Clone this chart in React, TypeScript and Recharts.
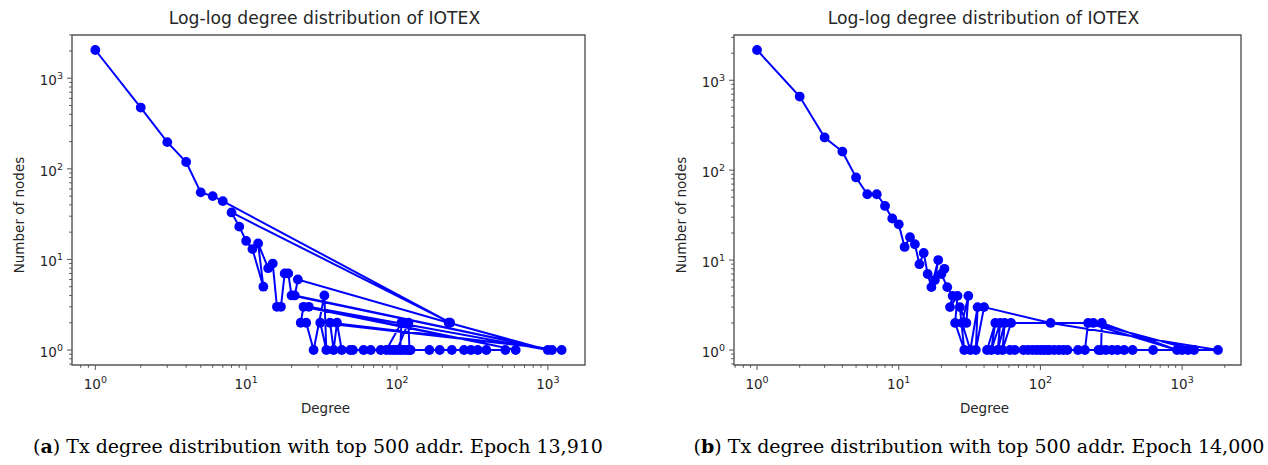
import React from 'react';
import { ScatterChart, Scatter, XAxis, YAxis, ReferenceArea } from 'recharts';

// ---------- data (plotting order, as in the source figure) ----------
const degreesA = [1, 2, 3, 4, 5, 6, 7, 225, 8, 9, 10, 11, 13, 12, 14, 15, 16, 17, 18, 19, 20, 1065, 21, 22, 220, 1000, 26, 612, 24, 23, 25, 28, 33, 34, 31, 1235, 36, 38, 40, 43, 49, 51, 60, 67, 78, 85, 107, 105, 90, 95, 100, 119, 121, 110, 116, 123, 164, 192, 231, 278, 309, 343, 391, 523];
const countsA = [2050, 475, 197, 119, 55, 50, 44, 2, 33, 23, 16, 13, 5, 15, 8, 9, 3, 3, 7, 7, 4, 1, 4, 6, 2, 1, 3, 1, 3, 2, 2, 1, 4, 1, 2, 1, 2, 1, 2, 1, 1, 1, 1, 1, 1, 1, 2, 1, 1, 1, 1, 2, 1, 1, 1, 1, 1, 1, 1, 1, 1, 1, 1, 1];

const degreesB = [1, 2, 3, 4, 5, 6, 7, 8, 9, 10, 11, 12, 13, 14, 15, 16, 17, 19, 18, 21, 20, 22, 24, 23, 26, 25, 29, 27, 30, 31, 28, 32, 36, 35, 40, 118, 1790, 116, 42, 48, 45, 52, 50, 56, 54, 62, 236, 1214, 61, 66, 76, 82, 88, 94, 100, 106, 112, 125, 135, 145, 155, 184, 206, 217, 920, 271, 268, 257, 290, 320, 350, 390, 447, 624, 1000, 1100];
const countsB = [2170, 659, 231, 161, 83, 54, 54, 40, 29, 25, 14, 18, 15, 9, 12, 7, 5, 10, 6, 8, 7, 5, 4, 3, 4, 2, 1, 3, 2, 4, 2, 1, 3, 1, 3, 2, 1, 1, 1, 2, 1, 2, 1, 2, 1, 2, 2, 1, 1, 1, 1, 1, 1, 1, 1, 1, 1, 1, 1, 1, 1, 1, 1, 2, 1, 2, 1, 1, 1, 1, 1, 1, 1, 1, 1, 1];

const majorTicks = [1, 10, 100, 1000];
const tickExponents = ['0', '1', '2', '3'];
const minorSteps = [2, 3, 4, 5, 6, 7, 8, 9];

const titleText = 'Log-log degree distribution of IOTEX';
const xLabel = 'Degree';
const yLabel = 'Number of nodes';
const captionTextA = 'Tx degree distribution with top 500 addr. Epoch 13,910';
const captionTextB = 'Tx degree distribution with top 500 addr. Epoch 14,000';

// ---------- helpers ----------
const BLUE = '#0000ff';
const AXIS = '#555555';
const TEXT = '#262626';
const SANS = '"DejaVu Sans", sans-serif';
const SERIF = '"DejaVu Serif", serif';

function logDomain(vals: number[]): [number, number] {
  const lo = Math.log10(Math.min(...vals));
  const hi = Math.log10(Math.max(...vals));
  const m = (hi - lo) * 0.05;
  return [Math.pow(10, lo - m), Math.pow(10, hi + m)];
}

function logTicks(domain: [number, number]): number[] {
  const res: number[] = [];
  for (let e = -1; e <= 4; e++) {
    const base = Math.pow(10, e);
    [1, ...minorSteps].forEach((k) => {
      const v = k === 1 ? base : k * base;
      if (v >= domain[0] && v <= domain[1]) res.push(v);
    });
  }
  return res;
}

const XTick = (props: any) => {
  const { x, y, payload } = props;
  const i = majorTicks.indexOf(payload.value);
  const major = i >= 0;
  return (
    <g>
      <line x1={x} x2={x} y1={y} y2={y + (major ? 5 : 2.8)} stroke={AXIS} strokeWidth={1} />
      {major && (
        <text x={x} y={y + 24} textAnchor="middle" fontFamily={SANS} fontSize={13.5} fill={TEXT}>
          10<tspan dy={-6} fontSize={9.5}>{tickExponents[i]}</tspan>
        </text>
      )}
    </g>
  );
};

const YTick = (props: any) => {
  const { x, y, payload } = props;
  const i = majorTicks.indexOf(payload.value);
  const major = i >= 0;
  return (
    <g>
      <line x1={x - (major ? 5 : 2.8)} x2={x} y1={y} y2={y} stroke={AXIS} strokeWidth={1} />
      {major && (
        <text x={x - 9} y={y + 7} textAnchor="end" fontFamily={SANS} fontSize={13.5} fill={TEXT}>
          10<tspan dy={-6} fontSize={9.5}>{tickExponents[i]}</tspan>
        </text>
      )}
    </g>
  );
};

const Dot = (props: any) => <circle cx={props.cx} cy={props.cy} r={4.9} fill={BLUE} />;

type PanelProps = {
  degrees: number[];
  counts: number[];
  left: number;
  width: number;
  plotLeft: number;
  plotRight: number;
};

const PLOT_TOP = 35;
const PLOT_BOTTOM = 365;
const CHART_H = 430;
const YAXIS_W = 60;
const XAXIS_H = 40;

const Panel = ({ degrees, counts, left, width, plotLeft, plotRight }: PanelProps) => {
  const data = degrees.map((d, i) => ({ x: d, y: counts[i] }));
  const xDom = logDomain(degrees);
  const yDom = logDomain(counts);
  return (
    <div style={{ position: 'absolute', left, top: 0 }}>
      <ScatterChart
        width={width}
        height={CHART_H}
        margin={{
          top: PLOT_TOP,
          right: left + width - plotRight,
          left: plotLeft - left - YAXIS_W,
          bottom: CHART_H - PLOT_BOTTOM - XAXIS_H,
        }}
      >
        <XAxis
          type="number"
          dataKey="x"
          scale="log"
          domain={xDom}
          allowDataOverflow
          ticks={logTicks(xDom)}
          interval={0}
          tick={(p: any) => <XTick {...p} />}
          tickLine={false}
          axisLine={false}
          tickSize={0}
          tickMargin={0}
          height={XAXIS_H}
        />
        <YAxis
          type="number"
          dataKey="y"
          scale="log"
          domain={yDom}
          allowDataOverflow
          ticks={logTicks(yDom)}
          interval={0}
          tick={(p: any) => <YTick {...p} />}
          tickLine={false}
          axisLine={false}
          tickSize={0}
          tickMargin={0}
          width={YAXIS_W}
        />
        <Scatter
          data={data}
          line={{ stroke: BLUE, strokeWidth: 2 }}
          lineType="joint"
          shape={(p: any) => <Dot {...p} />}
          fill={BLUE}
          isAnimationActive={false}
        />
        <ReferenceArea
          x1={xDom[0]}
          x2={xDom[1]}
          y1={yDom[0]}
          y2={yDom[1]}
          fill="none"
          fillOpacity={0}
          stroke={AXIS}
          strokeWidth={1.4}
          ifOverflow="visible"
        />
      </ScatterChart>
    </div>
  );
};

const A_LEFT = 72;
const A_RIGHT = 585;
const B_LEFT = 734;
const B_RIGHT = 1241;

export default function App() {
  const aMid = (A_LEFT + A_RIGHT) / 2;
  const bMid = (B_LEFT + B_RIGHT) / 2;
  const yMid = (PLOT_TOP + PLOT_BOTTOM) / 2 + 15;
  return (
    <div style={{ position: 'absolute', left: 0, top: 0, width: 1268, height: 465, background: '#fff', overflow: 'hidden' }}>
      <Panel degrees={degreesA} counts={countsA} left={0} width={620} plotLeft={A_LEFT} plotRight={A_RIGHT} />
      <Panel degrees={degreesB} counts={countsB} left={660} width={608} plotLeft={B_LEFT} plotRight={B_RIGHT} />
      <svg width={1268} height={465} style={{ position: 'absolute', left: 0, top: 0, pointerEvents: 'none' }}>
        <text x={aMid - 4} y={24} textAnchor="middle" fontFamily={SANS} fontSize={17.2} fill={TEXT}>{titleText}</text>
        <text x={bMid - 4} y={24} textAnchor="middle" fontFamily={SANS} fontSize={17.2} fill={TEXT}>{titleText}</text>
        <text x={aMid - 3} y={413} textAnchor="middle" fontFamily={SANS} fontSize={13.5} fill={TEXT}>{xLabel}</text>
        <text x={bMid - 3} y={413} textAnchor="middle" fontFamily={SANS} fontSize={13.5} fill={TEXT}>{xLabel}</text>
        <text transform={`translate(23.5,${yMid}) rotate(-90)`} textAnchor="middle" fontFamily={SANS} fontSize={13.5} fill={TEXT}>{yLabel}</text>
        <text transform={`translate(${23.5 + 662},${yMid}) rotate(-90)`} textAnchor="middle" fontFamily={SANS} fontSize={13.5} fill={TEXT}>{yLabel}</text>
        <text x={318} y={453} textAnchor="middle" fontFamily={SERIF} fontSize={19} fill="#000">
          (<tspan fontWeight="bold">a</tspan>) {captionTextA}
        </text>
        <text x={979} y={453} textAnchor="middle" fontFamily={SERIF} fontSize={19} fill="#000">
          (<tspan fontWeight="bold">b</tspan>) {captionTextB}
        </text>
      </svg>
    </div>
  );
}
